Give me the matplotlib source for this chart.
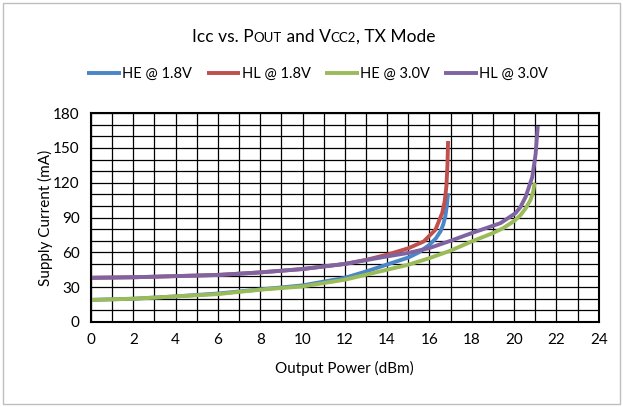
import matplotlib
matplotlib.use("Agg")
import matplotlib.pyplot as plt
from matplotlib.patches import Rectangle
import numpy as np

plt.rcParams['font.family'] = ['Lato', 'DejaVu Sans']

# series data (Pout dBm, Icc mA)
he18_p = [0, 2, 4, 6, 8, 10, 12, 13, 14, 15, 15.5, 16, 16.3, 16.52, 16.65, 16.75, 16.82, 16.88]
he18_i = [19, 20, 22, 24.5, 28, 31.5, 38, 43.5, 49.5, 55.5, 60, 66.5, 72, 78, 84, 91, 100, 111]

hl18_p = [0, 2, 4, 6, 8, 10, 12, 13, 14, 15, 15.73, 16.28, 16.6, 16.72, 16.8, 16.85, 16.88]
hl18_i = [38, 38.5, 39.5, 40.5, 42.7, 45.6, 50, 53.5, 58, 63.5, 69.4, 79.4, 93.8, 104, 116.7, 135, 156]

he30_p = [0, 2, 4, 6, 8, 10, 12, 14, 15, 16, 17, 18, 19, 19.5, 20, 20.3, 20.55, 20.78, 20.9, 20.97]
he30_i = [19, 20, 22, 24, 27.8, 30.6, 36.4, 45, 49.3, 55, 61.5, 69.4, 76.6, 81, 87, 92, 98, 105.3, 112, 120]

hl30_p = [0, 2, 4, 6, 8, 10, 12, 14, 15, 16, 17, 18, 19.36, 20.07, 20.3, 20.55, 20.86, 21.02, 21.12]
hl30_i = [38, 38.5, 39.5, 40.5, 42.7, 45.6, 50, 56.5, 59.5, 63.7, 70, 76.6, 85.2, 93.8, 99, 108, 125, 145, 169]

labels = ['HE @ 1.8V', 'HL @ 1.8V', 'HE @ 3.0V', 'HL @ 3.0V']
colors = ['#4a86c8', '#c0504d', '#9bbb59', '#8064a2']

fig = plt.figure(figsize=(6.23, 4.07), dpi=100)
fig.patches.append(Rectangle((0.005, 0.007), 0.99, 0.986, transform=fig.transFigure,
                             fill=False, edgecolor='#bfbfbf', linewidth=1))
ax = fig.add_axes([0.146, 0.209, 0.815, 0.513])

series = [(he18_p, he18_i), (hl18_p, hl18_i), (he30_p, he30_i), (hl30_p, hl30_i)]
for (p, i), lab, c in zip(series, labels, colors):
    ax.plot(p, i, color=c, lw=2.8, label=lab, solid_capstyle='butt',
            solid_joinstyle='round')

ax.set_xlim(0, 24)
ax.set_ylim(0, 180)
ax.set_xticks(np.arange(0, 25, 2))
ax.set_yticks(np.arange(0, 181, 30))
ax.set_xticks(np.arange(0, 25, 1), minor=True)
ax.set_yticks(np.arange(0, 181, 10), minor=True)
ax.grid(True, which='both', color='black', lw=0.9)
ax.set_axisbelow(True)
for sp in ax.spines.values():
    sp.set_linewidth(1.5)
ax.tick_params(which='both', length=0, labelsize=11, pad=8)
ax.set_xlabel('Output Power (dBm)', fontsize=11, labelpad=10)
ax.set_ylabel('Supply Current (mA)', fontsize=11, labelpad=0)

fig.legend(loc='center', bbox_to_anchor=(0.51, 0.818), ncol=4, frameon=False,
           fontsize=10.5, handlelength=2.3, handletextpad=0.1, columnspacing=1.0)

# title with small-caps subscripts, built piece by piece
pieces = [('Icc vs. P', 12.5), ('OUT', 9.5), (' and V', 12.5), ('CC2', 9.5), (', TX Mode', 12.5)]
fig.canvas.draw()
r = fig.canvas.get_renderer()
texts = []
for s, fs in pieces:
    t = fig.text(0, 0.898, s, fontsize=fs, ha='left', va='baseline')
    texts.append(t)
widths = [t.get_window_extent(r).width for t in texts]
total = sum(widths)
x = 0.5 * fig.bbox.width - total / 2 + 2
for t, w in zip(texts, widths):
    t.set_x(x / fig.bbox.width)
    x += w

fig.savefig('out.png', dpi=100)
